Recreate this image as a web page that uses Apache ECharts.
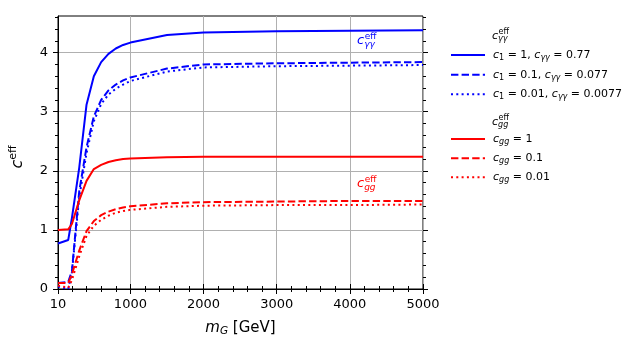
<!DOCTYPE html>
<html><head><meta charset="utf-8">
<script src="https://cdn.jsdelivr.net/npm/echarts@6/dist/echarts.min.js"></script>
<style>html,body{margin:0;padding:0;background:#fff}#c{width:641px;height:351px}</style>
</head><body><div id="c"></div>
<script>
// ---- data ----
const massGeV = [10, 150, 200, 300, 400, 500, 600, 700, 800, 900, 1000, 1500, 2000, 3000, 4000, 5000];
const gam_c1_1    = [0.77, 0.83, 1.20, 2.05, 3.12, 3.60, 3.84, 3.98, 4.07, 4.13, 4.17, 4.30, 4.34, 4.36, 4.37, 4.38];
const gam_c1_01   = [0.10, 0.12, 0.30, 1.65, 2.40, 2.92, 3.20, 3.36, 3.46, 3.53, 3.58, 3.73, 3.80, 3.82, 3.83, 3.84];
const gam_c1_001  = [0.04, 0.00, 0.28, 1.55, 2.30, 2.84, 3.13, 3.29, 3.39, 3.46, 3.52, 3.68, 3.75, 3.77, 3.78, 3.79];
const gg_1        = [1.00, 1.01, 1.10, 1.50, 1.83, 2.03, 2.10, 2.15, 2.18, 2.20, 2.21, 2.23, 2.24, 2.24, 2.24, 2.24];
const gg_01       = [0.10, 0.10, 0.25, 0.65, 0.98, 1.15, 1.25, 1.31, 1.35, 1.38, 1.40, 1.45, 1.47, 1.48, 1.49, 1.49];
const gg_001      = [0.06, 0.02, 0.15, 0.55, 0.90, 1.07, 1.17, 1.24, 1.29, 1.32, 1.34, 1.39, 1.41, 1.42, 1.42, 1.43];

const xMajorTicks = [10, 1000, 2000, 3000, 4000, 5000];
const xMinorTicks = [200, 400, 600, 800, 1200, 1400, 1600, 1800, 2200, 2400, 2600, 2800, 3200, 3400, 3600, 3800, 4200, 4400, 4600, 4800];
const yMajorTicks = [0, 1, 2, 3, 4];
const yMinorTicks = [0.2, 0.4, 0.6, 0.8, 1.2, 1.4, 1.6, 1.8, 2.2, 2.4, 2.6, 2.8, 3.2, 3.4, 3.6, 3.8, 4.2, 4.4, 4.6];

const seriesNames = ['c1=1, cγγ=0.77', 'c1=0.1, cγγ=0.077', 'c1=0.01, cγγ=0.0077', 'cgg=1', 'cgg=0.1', 'cgg=0.01'];
const legendLabels = [
  '{i|c}{s|1}{n| = 1, }{i|c}{si|γγ}{n| = 0.77}',
  '{i|c}{s|1}{n| = 0.1, }{i|c}{si|γγ}{n| = 0.077}',
  '{i|c}{s|1}{n| = 0.01, }{i|c}{si|γγ}{n| = 0.0077}',
  '{i|c}{si|gg}{n| = 1}',
  '{i|c}{si|gg}{n| = 0.1}',
  '{i|c}{si|gg}{n| = 0.01}'
];
const seriesValues = [gam_c1_1, gam_c1_01, gam_c1_001, gg_1, gg_01, gg_001];
const seriesColors = ['#0000ff', '#0000ff', '#0000ff', '#ff0000', '#ff0000', '#ff0000'];
const dashed = [7.4, 3.2], dotted = [2, 3.3];
const seriesDash = ['solid', dashed, dotted, 'solid', dashed, dotted];

// ---- chart ----
const F = 'DejaVu Sans';
const G = {left: 58, right: 218, top: 16, bottom: 62};
const chart = echarts.init(document.getElementById('c'), null, {renderer: 'canvas'});

function tickAxis(extra) {
  return Object.assign({
    type: 'value', axisLine: {show: false}, axisLabel: {show: false},
    splitLine: {show: false}, axisTick: {show: true, inside: false, length: 3, lineStyle: {color: '#000', width: 1}}
  }, extra);
}

function stackedC(x, yb, sub, color, f) {
  const s = Math.round(f * 0.7);
  return {
    type: 'group', children: [
      {type: 'text', x: x, y: yb - 0.3 * f, style: {text: 'c', font: `italic ${f}px "${F}"`, fill: color, verticalAlign: 'middle'}},
      {type: 'text', x: x + 0.6 * f, y: yb - 0.42 * f - 0.3 * s, style: {text: 'eff', font: `${s}px "${F}"`, fill: color, verticalAlign: 'middle'}},
      {type: 'text', x: x + 0.55 * f, y: yb + 0.2 * f - 0.3 * s, style: {text: sub, font: `italic ${s}px "${F}"`, fill: color, verticalAlign: 'middle'}}
    ]
  };
}

const labelMap = {};
seriesNames.forEach((n, i) => labelMap[n] = legendLabels[i]);
const legendRich = {
  i: {fontFamily: F, fontSize: 11, fontStyle: 'italic', color: '#000'},
  n: {fontFamily: F, fontSize: 11, color: '#000'},
  s: {fontFamily: F, fontSize: 8, color: '#000', padding: [6, 0, 0, 0]},
  si: {fontFamily: F, fontSize: 8, fontStyle: 'italic', color: '#000', padding: [6, 0, 0, 0]}
};
function legendCfg(names, top, gap) {
  return {
    data: names, orient: 'vertical', left: 450, top: top, padding: 0,
    itemWidth: 34, itemHeight: 14, itemGap: gap, selectedMode: false,
    itemStyle: {color: 'rgba(0,0,0,0)', borderColor: 'rgba(0,0,0,0)', borderWidth: 0, opacity: 0},
    formatter: n => labelMap[n],
    textStyle: {fontFamily: F, fontSize: 11, color: '#000', padding: [0, 0, 0, 3], rich: legendRich}
  };
}
const plain = v => String(v);

const option = {
  animation: false,
  backgroundColor: '#fff',
  grid: [
    Object.assign({show: true, borderColor: '#000', borderWidth: 1, backgroundColor: 'transparent'}, G),
    Object.assign({}, G),
    Object.assign({}, G)
  ],
  xAxis: [
    {
      type: 'value', gridIndex: 0, min: 10, max: 5000, position: 'bottom',
      name: '{i|m}{s|G}{n| [GeV]}', nameLocation: 'middle', nameGap: 30,
      nameTextStyle: {fontFamily: F, fontSize: 15, color: '#000', rich: {
        i: {fontFamily: F, fontSize: 15, fontStyle: 'italic', color: '#000'},
        n: {fontFamily: F, fontSize: 15, color: '#000'},
        s: {fontFamily: F, fontSize: 10.5, fontStyle: 'italic', color: '#000', padding: [7, 0, 0, 0]}
      }},
      axisLine: {show: true, lineStyle: {color: '#000', width: 1}},
      axisTick: {show: true, length: 5, customValues: xMajorTicks, lineStyle: {color: '#000'}},
      axisLabel: {show: true, customValues: xMajorTicks, formatter: plain, fontFamily: F, fontSize: 13, color: '#000', margin: 9},
      splitLine: {show: true, customValues: xMajorTicks, lineStyle: {color: '#b0b0b0', width: 1}}
    },
    tickAxis({gridIndex: 1, min: 10, max: 5000, position: 'bottom', axisTick: {show: true, length: 3, customValues: xMinorTicks, lineStyle: {color: '#000'}}}),
    tickAxis({gridIndex: 1, min: 10, max: 5000, position: 'top', axisTick: {show: true, length: 5, customValues: xMajorTicks, lineStyle: {color: '#000'}}}),
    tickAxis({gridIndex: 2, min: 10, max: 5000, position: 'top', axisTick: {show: true, length: 3, customValues: xMinorTicks, lineStyle: {color: '#000'}}})
  ],
  yAxis: [
    {
      type: 'value', gridIndex: 0, min: 0, max: 4.62, interval: 1,
      axisLine: {show: true, lineStyle: {color: '#000', width: 1}},
      axisTick: {show: true, length: 5, customValues: yMajorTicks, lineStyle: {color: '#000'}},
      axisLabel: {show: true, customValues: yMajorTicks, formatter: plain, fontFamily: F, fontSize: 13, color: '#000', margin: 10},
      splitLine: {show: true, customValues: yMajorTicks, lineStyle: {color: '#b0b0b0', width: 1}}
    },
    tickAxis({gridIndex: 1, min: 0, max: 4.62, position: 'left', axisTick: {show: true, length: 3, customValues: yMinorTicks, lineStyle: {color: '#000'}}}),
    tickAxis({gridIndex: 1, min: 0, max: 4.62, position: 'right', axisTick: {show: true, length: 5, customValues: yMajorTicks, lineStyle: {color: '#000'}}}),
    tickAxis({gridIndex: 2, min: 0, max: 4.62, position: 'right', axisTick: {show: true, length: 3, customValues: yMinorTicks, lineStyle: {color: '#000'}}})
  ],
  legend: [
    legendCfg(seriesNames.slice(0, 3), 49.5, 7),
    legendCfg(seriesNames.slice(3, 6), 133.5, 6.5)
  ],
  series: seriesNames.map((n, i) => ({
    name: n, type: 'line', xAxisIndex: 0, yAxisIndex: 0,
    data: massGeV.map((m, j) => [m, seriesValues[i][j]]),
    symbol: 'none', smooth: false, color: seriesColors[i],
    lineStyle: {color: seriesColors[i], width: 2, type: seriesDash[i]},
    emphasis: {disabled: true}
  })),
  graphic: [
    {type: 'text', x: 28, y: 157, rotation: Math.PI / 2,
     style: {text: '{i|c}{sup|eff}', align: 'center', verticalAlign: 'bottom', rich: {
       i: {fontFamily: F, fontSize: 16, fontStyle: 'italic', fill: '#000'},
       sup: {fontFamily: F, fontSize: 11, fill: '#000', padding: [0, 0, 9, 0]}
     }}},
    stackedC(357, 45, 'γγ', '#0000ff', 13),
    stackedC(357, 188, 'gg', '#ff0000', 13),
    stackedC(492, 39, 'γγ', '#000', 11),
    stackedC(492, 125, 'gg', '#000', 11)
  ]
};
chart.setOption(option);
</script>
</body></html>
